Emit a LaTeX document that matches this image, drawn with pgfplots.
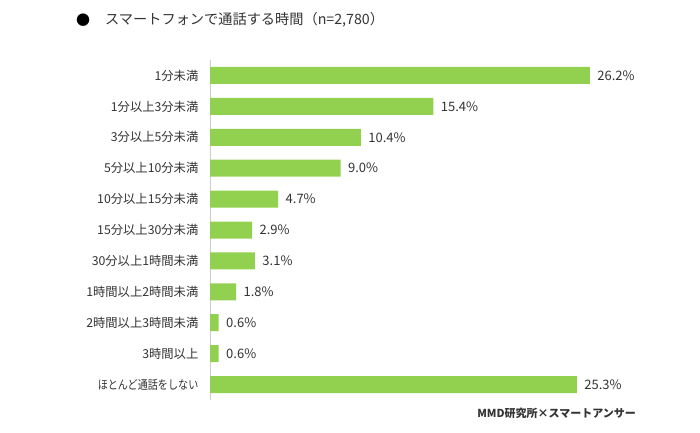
\documentclass[border=0pt]{standalone}
\usepackage{fontspec}
\setmainfont{Noto Sans CJK JP}
\usepackage{pgfplots}
\pgfplotsset{compat=1.18}
\definecolor{bargreen}{HTML}{92D050}
\definecolor{txt}{HTML}{333333}
\begin{document}
\begin{tikzpicture}
\useasboundingbox (0pt,0pt) rectangle (700pt,432pt);
\node[anchor=center,text=black,font=\fontsize{14}{16}\selectfont] at (83pt,412pt) {●};
\node[anchor=west,text=txt,font=\fontsize{14.2}{16}\selectfont,inner sep=0pt] at (105pt,412pt) {スマートフォンで通話する時間（n=2,780）};
\node[anchor=east,text=txt,font=\fontsize{11}{13}\bfseries,inner sep=0pt] at (636pt,19pt) {MMD研究所×スマートアンサー};
\begin{axis}[
    at={(210pt,32pt)}, anchor=south west,
    scale only axis, width=435pt, height=340pt,
    xbar, bar width=17pt,
    xmin=0, xmax=30,
    ymin=-0.5, ymax=10.5,
    axis x line=none,
    axis y line=left,
    axis line style={draw=black!20, line width=0.8pt, -},
    ytick={0,...,10},
    yticklabels={\scalebox{0.82}[1]{ほとんど通話をしない},3時間以上,2時間以上3時間未満,1時間以上2時間未満,30分以上1時間未満,15分以上30分未満,10分以上15分未満,5分以上10分未満,3分以上5分未満,1分以上3分未満,1分未満},
    ytick style={draw=none},
    yticklabel style={text=txt,font=\fontsize{12.3}{15}\selectfont,xshift=-6pt},
    nodes near coords={\pgfmathprintnumber[fixed,precision=1,fixed zerofill]{\pgfplotspointmeta}\%},
    /pgf/number format/assume math mode=true,
    every node near coord/.append style={text=txt,font=\fontsize{13}{15}\selectfont,anchor=west,xshift=4pt},
]
\addplot[fill=bargreen, draw=none] coordinates {
(26.2,10) (15.4,9) (10.4,8) (9.0,7) (4.7,6) (2.9,5) (3.1,4) (1.8,3) (0.6,2) (0.6,1) (25.3,0)
};
\end{axis}
\end{tikzpicture}
\end{document}
